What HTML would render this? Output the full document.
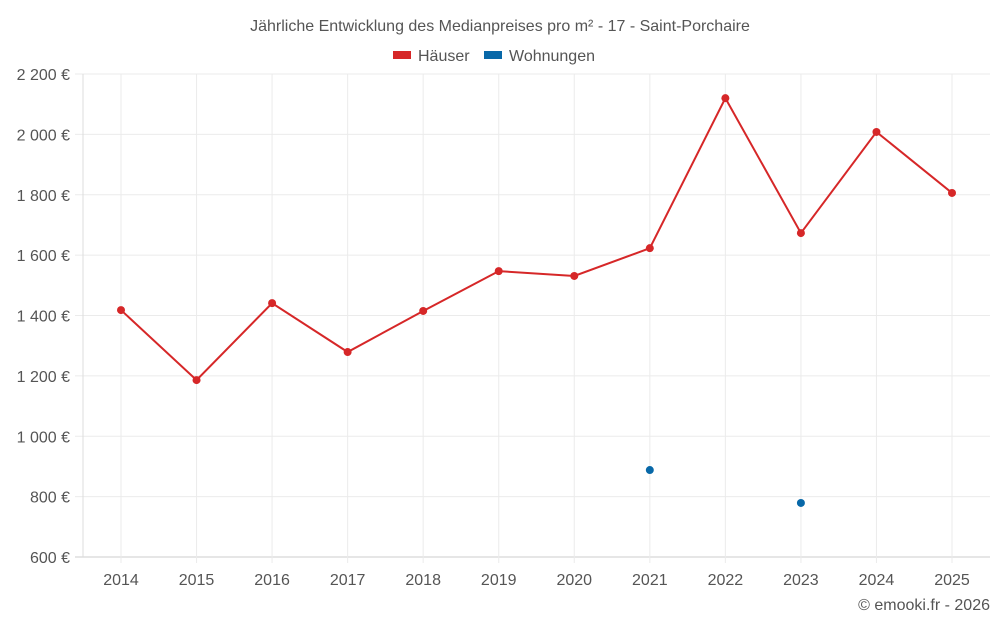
<!DOCTYPE html>
<html><head><meta charset="utf-8"><style>
body{margin:0;background:#fff;width:1000px;height:625px;overflow:hidden;font-family:"Liberation Sans",sans-serif}
</style></head><body>
<svg id="c" width="1000" height="625" style="position:absolute;left:0;top:0">
<text x="500" y="31" text-anchor="middle" font-size="16" fill="#555">Jährliche Entwicklung des Medianpreises pro m² - 17 - Saint-Porchaire</text>
<g><rect x="393" y="51" width="18" height="8" fill="#d62728"/><text x="418" y="61" font-size="16" fill="#555">Häuser</text></g>
<g><rect x="484" y="51" width="18" height="8" fill="#0868a8"/><text x="509" y="61" font-size="16" fill="#555">Wohnungen</text></g>
<g id="grid"></g><g id="marks"></g>
<text x="990" y="610" text-anchor="end" font-size="16" fill="#555">© emooki.fr - 2026</text>
</svg>
<script>
const years=[2014,2015,2016,2017,2018,2019,2020,2021,2022,2023,2024,2025];
const houses=[1418,1186,1441,1279,1415,1547,1531,1623,2120,1673,2008,1806];
const flats=[null,null,null,null,null,null,null,888,null,779,null,null];
const yTicks=[600,800,1000,1200,1400,1600,1800,2000,2200];
const yLabels=["600 €","800 €","1 000 €","1 200 €","1 400 €","1 600 €","1 800 €","2 000 €","2 200 €"];
const NS="http://www.w3.org/2000/svg";
const L=83,R=990,T=74,B=557;
const x=i=>121+i*(952-121)/(years.length-1);
const y=v=>B-(v-600)*(B-T)/1600;
function mk(p,t,a){const e=document.createElementNS(NS,t);for(const k in a)e.setAttribute(k,a[k]);p.appendChild(e);return e;}
const g=document.getElementById('grid'),m=document.getElementById('marks');
yTicks.forEach((v,i)=>{
 const l=mk(g,'line',{x1:75,x2:R,y1:y(v),y2:y(v),stroke:i==0?'#ccc':'#ebebeb'});
 
 
 const t=mk(g,'text',{x:70,y:y(v)+6,'text-anchor':'end','font-size':16,fill:'#555'});t.textContent=yLabels[i];
 
 
});
years.forEach((yr,i)=>{
 const l=mk(g,'line',{x1:x(i),x2:x(i),y1:T,y2:B+6,stroke:'#ebebeb'});
 
 
 const t=mk(g,'text',{x:x(i),y:585,'text-anchor':'middle','font-size':16,fill:'#555'});t.textContent=yr;
 
 
});
const ax=mk(g,'line',{x1:L,x2:L,y1:T,y2:B,stroke:'#ddd'});


const pl=mk(m,'polyline',{points:houses.map((v,i)=>x(i)+','+y(v)).join(' '),fill:'none',stroke:'#d62728','stroke-width':2});


houses.forEach((v,i)=>{const c=mk(m,'circle',{cx:x(i),cy:y(v),r:4,fill:'#d62728'});
 
 });
flats.forEach((v,i)=>{if(v==null)return;const c=mk(m,'circle',{cx:x(i),cy:y(v),r:4,fill:'#0868a8'});
 
 });
</script>
</body></html>
